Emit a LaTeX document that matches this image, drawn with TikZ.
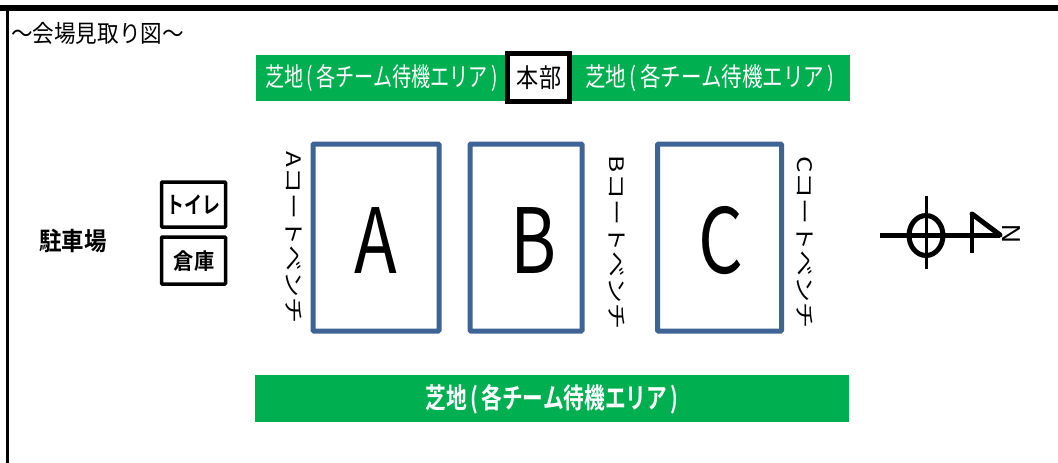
\documentclass[tikz,border=0pt]{standalone}
\usepackage{fontspec}
\newfontfamily\jp{Noto Sans CJK JP}
\newfontfamily\jpb{Noto Sans CJK JP Bold}
\setsansfont{Liberation Sans}
\newcommand{\grasslabel}{芝地\,(\,各チーム待機エリア\,)}
\tikzset{
 x=1pt,y=-1pt,
 lbl/.style={inner sep=0pt,font=\jp},
 court/.style={draw=courtblue,line width=5pt,fill=white,rounded corners=0.8pt},
 blackbox/.style={draw=black,line width=3.5pt,fill=white,rounded corners=0.8pt},
 grasstext/.style={lbl,text=white,font=\jp\fontsize{26}{26}\selectfont},
 bench/.style={lbl,rotate=-90,font=\jp\fontsize{26}{26}\selectfont,yscale=0.77},
 courtname/.style={lbl,font=\jp\fontsize{90}{90}\selectfont,xscale=0.78},
 compass/.style={draw=black,line width=5pt},
 compassthin/.style={draw=black,line width=3.5pt},
}
\definecolor{grassgreen}{HTML}{00B050}
\definecolor{courtblue}{HTML}{3E6496}
\begin{document}
\begin{tikzpicture}
\useasboundingbox (0,0) rectangle (1058,463);
% frame
\draw[black,line width=5.5pt] (0,8) -- (1058,8);
\draw[black,line width=2.5pt] (7.5,8) -- (7.5,463);
\node[lbl,anchor=west,font=\jp\fontsize{24}{24}\selectfont,xscale=0.9] (title) at (11,33) {～会場見取り図～};
% grass
\fill[grassgreen] (256,55) rectangle (850,101);
\fill[grassgreen] (255,375) rectangle (849,422);
\node[grasstext,xscale=0.735] (g1) at (381.5,78) {\grasslabel};
\node[grasstext,xscale=0.79] (g2) at (710,78) {\grasslabel};
\node[grasstext,font=\jpb\fontsize{28}{28}\selectfont,xscale=0.74] (g3) at (552,399) {\grasslabel};
\node[blackbox,minimum width=62pt,minimum height=48pt,line width=5pt,rounded corners=0pt] (hq) at (538,77) {};
\node[lbl,font=\jp\fontsize{26}{26}\selectfont,xscale=0.85] (hqt) at (539,78) {本部};
% courts
\node[court,minimum width=126pt,minimum height=187pt] (A) at (376,237.5) {};
\node[court,minimum width=112pt,minimum height=187pt] (B) at (526,237.5) {};
\node[court,minimum width=124pt,minimum height=187pt] (C) at (719.5,237.5) {};
\node[courtname] at (376,241) {A};
\node[courtname] at (534,241) {B};
\node[courtname] at (721,241) {C};
% benches
\node[bench] (ba) at (294,237.5) {Aコートベンチ};
\node[bench] (bb) at (617,242.5) {Bコートベンチ};
\node[bench] (bc) at (805,242.5) {Cコートベンチ};
% left
\node[lbl,font=\jpb\fontsize{25}{25}\selectfont,xscale=0.9] (park) at (73,241) {駐車場};
\node[blackbox,minimum width=64pt,minimum height=45pt] (toilet) at (193.5,204.5) {};
\node[lbl,font=\jpb\fontsize{23}{23}\selectfont,xscale=0.78] at (193.5,205) {トイレ};
\node[blackbox,minimum width=64pt,minimum height=47pt] (store) at (193.5,260.5) {};
\node[lbl,font=\jpb\fontsize{22}{22}\selectfont,xscale=0.92] at (194,261) {倉庫};
% compass
\coordinate (cw) at (880,235);
\coordinate (ctip) at (1000,235);
\coordinate (ctop) at (972,214);
\coordinate (cbot) at (972,253);
\draw[compass] (926,235.5) ellipse [x radius=17pt,y radius=20pt];
\draw[compass] (cw) -- (ctip);
\draw[compassthin] (926.5,196) -- (926.5,269);
\draw[compassthin,line width=4pt] (cbot) -- (ctop);
\draw[compass,line join=round,line cap=round] (ctop) -- (ctip);
\node[lbl,rotate=-90,font=\sffamily\fontsize{26}{26}\selectfont] (north) at (1011,234) {N};
\end{tikzpicture}
\end{document}
